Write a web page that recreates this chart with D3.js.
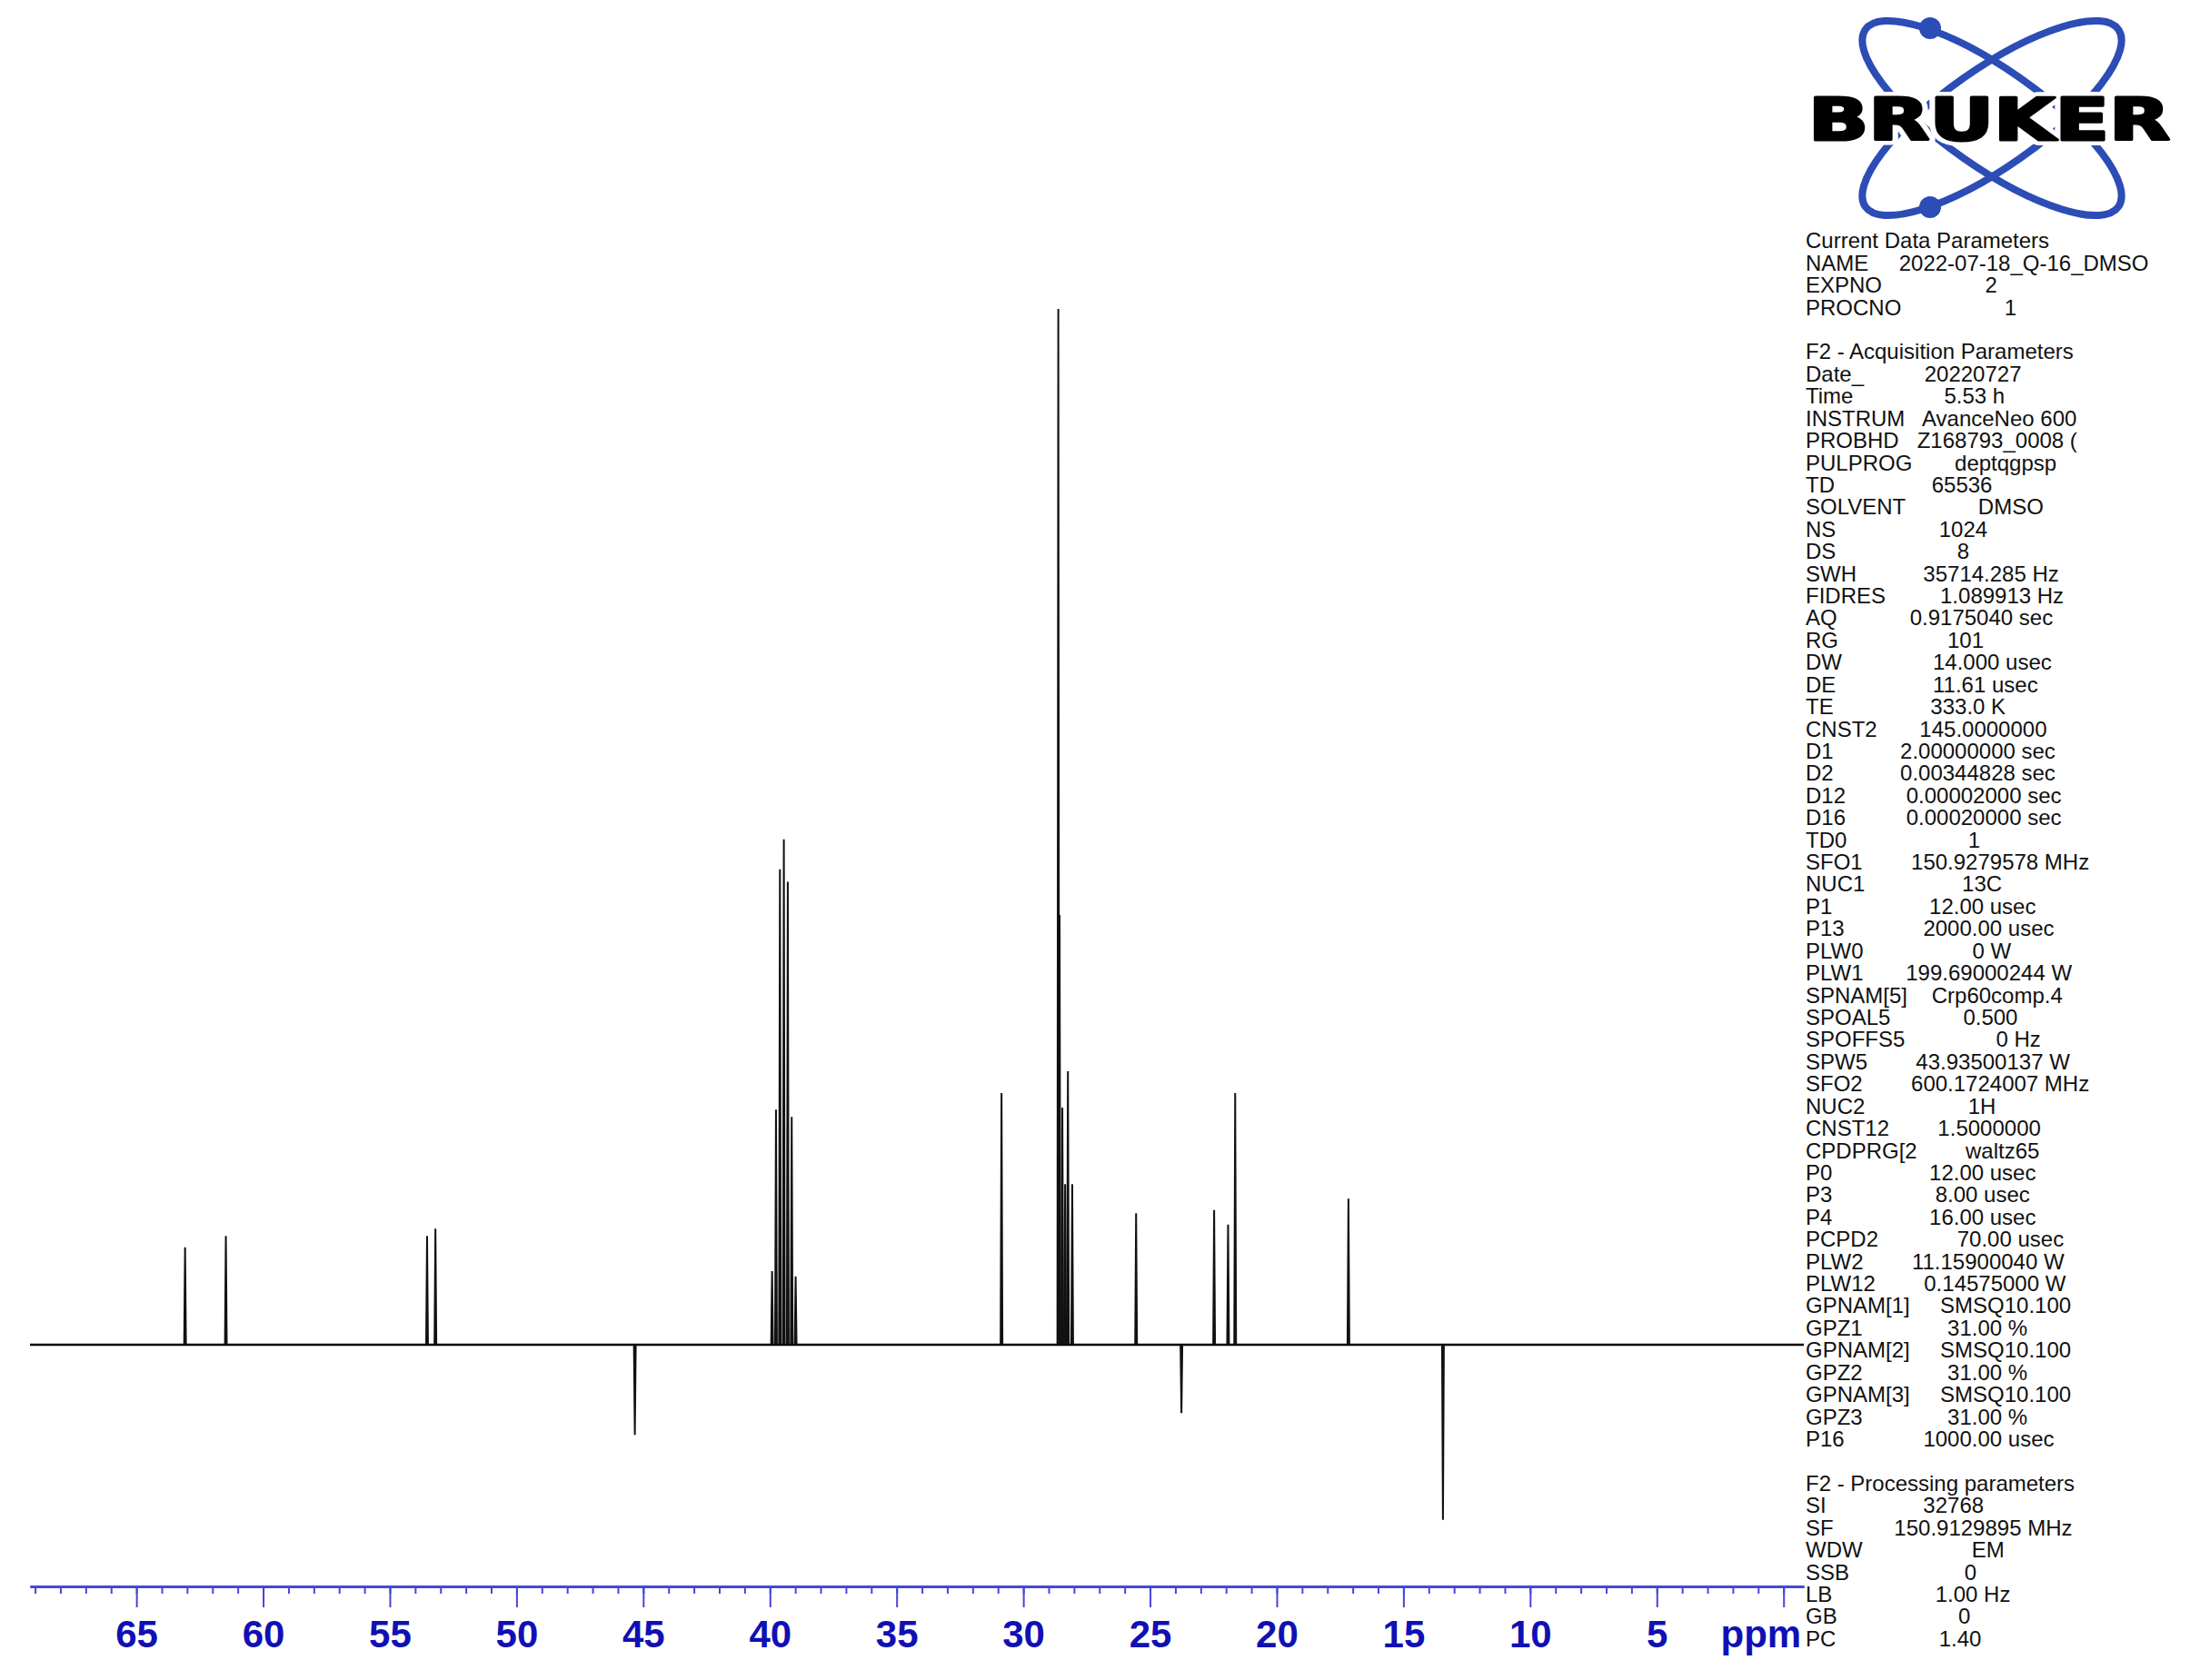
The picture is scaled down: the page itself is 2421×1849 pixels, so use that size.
<!DOCTYPE html>
<html>
<head>
<meta charset="utf-8">
<script src="https://cdn.jsdelivr.net/npm/d3@7"></script>
<style>
  html, body { margin: 0; padding: 0; background: #fff; }
  svg { display: block; }
</style>
</head>
<body>
<svg id="chart" width="2421" height="1849"></svg>
<script>
// ---------------- DATA ----------------
// Peak positions (ppm) and signed intensities (% of the tallest signal)
const peakPpm = [63.08, 61.47, 53.53, 53.20, 45.33,
  39.915, 39.76, 39.605, 39.45, 39.295, 39.14, 38.985,
  30.86, 28.62, 28.57, 28.46, 28.35, 28.24, 28.07,
  25.55, 23.76, 22.47, 21.92, 21.64, 17.17, 13.44];
const peakIntensity = [9.4, 10.5, 10.5, 11.2, -8.7,
  7.1, 22.7, 45.9, 48.8, 44.7, 22.0, 6.6,
  24.3, 100, 41.5, 22.9, 15.5, 26.4, 15.5,
  12.7, -6.6, 13.0, 11.6, 24.3, 14.1, -16.9];

const ppmDomain = [69.2, -0.8];
const majorTicks = [65, 60, 55, 50, 45, 40, 35, 30, 25, 20, 15, 10, 5, 0];
const minorTicks = d3.range(69, -1, -1);
const axisUnit = "ppm";

// Parameter block text (label, spacing, value as printed by TopSpin)
const L = (a, n, b) => a + " ".repeat(n) + b;
const paramLines = [
  "Current Data Parameters",
  L("NAME", 5, "2022-07-18_Q-16_DMSO"),
  L("EXPNO", 17, "2"),
  L("PROCNO", 17, "1"),
  "",
  "F2 - Acquisition Parameters",
  L("Date_", 10, "20220727"),
  L("Time", 15, "5.53 h"),
  L("INSTRUM", 3, "AvanceNeo 600"),
  L("PROBHD", 3, "Z168793_0008 ("),
  L("PULPROG", 7, "deptqgpsp"),
  L("TD", 16, "65536"),
  L("SOLVENT", 12, "DMSO"),
  L("NS", 17, "1024"),
  L("DS", 20, "8"),
  L("SWH", 11, "35714.285 Hz"),
  L("FIDRES", 9, "1.089913 Hz"),
  L("AQ", 12, "0.9175040 sec"),
  L("RG", 18, "101"),
  L("DW", 15, "14.000 usec"),
  L("DE", 16, "11.61 usec"),
  L("TE", 16, "333.0 K"),
  L("CNST2", 7, "145.0000000"),
  L("D1", 11, "2.00000000 sec"),
  L("D2", 11, "0.00344828 sec"),
  L("D12", 10, "0.00002000 sec"),
  L("D16", 10, "0.00020000 sec"),
  L("TD0", 20, "1"),
  L("SFO1", 8, "150.9279578 MHz"),
  L("NUC1", 16, "13C"),
  L("P1", 16, "12.00 usec"),
  L("P13", 13, "2000.00 usec"),
  L("PLW0", 18, "0 W"),
  L("PLW1", 7, "199.69000244 W"),
  L("SPNAM[5]", 4, "Crp60comp.4"),
  L("SPOAL5", 12, "0.500"),
  L("SPOFFS5", 15, "0 Hz"),
  L("SPW5", 8, "43.93500137 W"),
  L("SFO2", 8, "600.1724007 MHz"),
  L("NUC2", 17, "1H"),
  L("CNST12", 8, "1.5000000"),
  L("CPDPRG[2", 8, "waltz65"),
  L("P0", 16, "12.00 usec"),
  L("P3", 17, "8.00 usec"),
  L("P4", 16, "16.00 usec"),
  L("PCPD2", 13, "70.00 usec"),
  L("PLW2", 8, "11.15900040 W"),
  L("PLW12", 8, "0.14575000 W"),
  L("GPNAM[1]", 5, "SMSQ10.100"),
  L("GPZ1", 14, "31.00 %"),
  L("GPNAM[2]", 5, "SMSQ10.100"),
  L("GPZ2", 14, "31.00 %"),
  L("GPNAM[3]", 5, "SMSQ10.100"),
  L("GPZ3", 14, "31.00 %"),
  L("P16", 13, "1000.00 usec"),
  "",
  "F2 - Processing parameters",
  L("SI", 16, "32768"),
  L("SF", 10, "150.9129895 MHz"),
  L("WDW", 18, "EM"),
  L("SSB", 19, "0"),
  L("LB", 17, "1.00 Hz"),
  L("GB", 20, "0"),
  L("PC", 17, "1.40")
];
const logoText = "BRUKER";

// ---------------- DRAWING ----------------
const svg = d3.select("#chart");
const W = 2421, H = 1849;
svg.append("rect").attr("width", W).attr("height", H).attr("fill", "#fff");

const x = d3.scaleLinear().domain(ppmDomain).range([33, 1985]);
const y = d3.scaleLinear().domain([0, 100]).range([1480, 340]);

const line = d3.line().x(d => x(d[0])).y(d => y(d[1]));

// baseline
svg.append("path")
  .attr("d", line([[ppmDomain[0], 0], [ppmDomain[1], 0]]))
  .attr("fill", "none").attr("stroke", "#000").attr("stroke-width", 2.6);

// peaks
const hw = 0.035;
const peaks = peakPpm.map((p, i) => [p, peakIntensity[i]]);
svg.append("g").selectAll("path").data(peaks).join("path")
  .attr("d", d => line([[d[0] + hw, 0], [d[0], d[1]], [d[0] - hw, 0]]))
  .attr("fill", "none").attr("stroke", "#111").attr("stroke-width", 2)
  .attr("stroke-linejoin", "miter");

// axis
const axisY = 1746;
const axisColor = "#4646d8";
const labelColor = "#1010b4";
const gMinor = svg.append("g").attr("transform", `translate(0,${axisY})`)
  .call(d3.axisBottom(x).tickValues(minorTicks).tickSize(8).tickSizeOuter(0).tickFormat(""));
const gMajor = svg.append("g").attr("transform", `translate(0,${axisY})`)
  .call(d3.axisBottom(x).tickValues(majorTicks).tickSize(23).tickSizeOuter(0)
    .tickFormat(d => d === 0 ? "" : d).tickPadding(14));
[gMinor, gMajor].forEach(g => {
  g.select(".domain").attr("stroke", axisColor).attr("stroke-width", 3);
  g.selectAll(".tick line").attr("stroke", axisColor).attr("stroke-width", 2);
});
gMajor.selectAll(".tick text")
  .attr("fill", labelColor)
  .attr("font-family", "Liberation Sans, Arial, sans-serif")
  .attr("font-weight", "bold")
  .attr("font-size", 42);
svg.append("text")
  .attr("x", x(-0.7)).attr("y", 1813)
  .attr("text-anchor", "end")
  .attr("fill", labelColor)
  .attr("font-family", "Liberation Sans, Arial, sans-serif")
  .attr("font-weight", "bold").attr("font-size", 42)
  .text(axisUnit);

// parameter block
const pg = svg.append("g")
  .attr("font-family", "Liberation Sans, Arial, sans-serif")
  .attr("font-size", 24).attr("fill", "#111");
pg.selectAll("text").data(paramLines).join("text")
  .attr("x", 1987)
  .attr("y", (d, i) => 273.3 + i * 24.42)
  .attr("xml:space", "preserve")
  .style("white-space", "pre")
  .text(d => d);

// logo
const logo = svg.append("g").attr("transform", "translate(2192,130)");
const blue = "#2c4cb6";
[35, -35].forEach(a => {
  logo.append("ellipse").attr("rx", 170).attr("ry", 54)
    .attr("transform", `rotate(${a})`)
    .attr("fill", "none").attr("stroke", blue).attr("stroke-width", 8);
});
logo.append("circle").attr("cx", -68).attr("cy", -99).attr("r", 12).attr("fill", blue);
logo.append("circle").attr("cx", -68).attr("cy", 98).attr("r", 12).attr("fill", blue);
const logoAttrs = sel => sel
  .attr("x", 1990 - 2192).attr("y", 154 - 130)
  .attr("textLength", 398).attr("lengthAdjust", "spacingAndGlyphs")
  .attr("font-family", "DejaVu Sans, sans-serif").attr("font-weight", "bold")
  .attr("font-size", 64)
  .text(logoText);
logo.append("text").call(logoAttrs)
  .attr("fill", "#fff").attr("stroke", "#fff").attr("stroke-width", 12)
  .attr("stroke-linejoin", "round");
logo.append("text").call(logoAttrs)
  .attr("fill", "#000").attr("stroke", "#000").attr("stroke-width", 3)
  .attr("stroke-linejoin", "round");
</script>
</body>
</html>
